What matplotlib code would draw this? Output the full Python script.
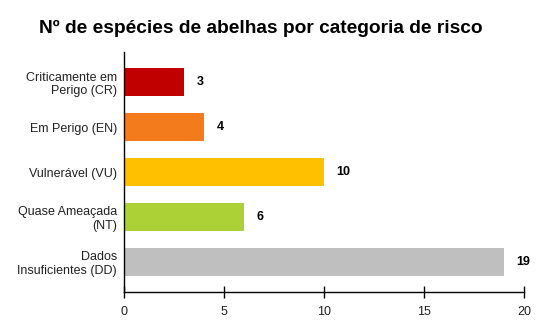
import matplotlib
matplotlib.use("Agg")
import matplotlib.pyplot as plt

plt.rcParams['font.family'] = ['Liberation Sans', 'DejaVu Sans']

categorias = ["Criticamente em\nPerigo (CR)", "Em Perigo (EN)", "Vulnerável (VU)",
              "Quase Ameaçada\n(NT)", "Dados\nInsuficientes (DD)"]
especies = [3, 4, 10, 6, 19]
cores = ["#c00000", "#f47b1c", "#ffc000", "#acd136", "#bfbfbf"]
xticks = [0, 5, 10, 15, 20]

fig = plt.figure(figsize=(5.41, 3.35), dpi=100)
ax = fig.add_axes([124/541, 43/335, 400/541, 240/335])

pos = list(range(len(categorias)))
ax.barh(pos, especies, height=0.63, color=cores, zorder=1)

# rotulos de valor
for p, v in zip(pos, especies):
    ax.annotate(str(v), (v, p), xytext=(9, 0), textcoords="offset points",
                va="center", ha="left", fontsize=9, fontweight="bold", color="black")

ax.set_xlim(0, 20)
ax.set_ylim(4.667, -0.667)
ax.set_xticks(xticks)
ax.set_yticks(pos)
ax.set_yticklabels(categorias, fontsize=9, color="#222222")
ax.tick_params(axis="y", length=0, pad=5)
ax.tick_params(axis="x", direction="inout", length=8, width=1, pad=6,
               labelsize=9, labelcolor="#222222")
ax.spines["top"].set_visible(False)
ax.spines["right"].set_visible(False)
for s in ("left", "bottom"):
    ax.spines[s].set_color("black")
    ax.spines[s].set_linewidth(1)
    ax.spines[s].set_zorder(3)

fig.text(260.5/541, 1 - 28/335, "Nº de espécies de abelhas por categoria de risco",
         ha="center", va="center", fontsize=13.8, fontweight="bold")

fig.savefig("out.png", dpi=100)
